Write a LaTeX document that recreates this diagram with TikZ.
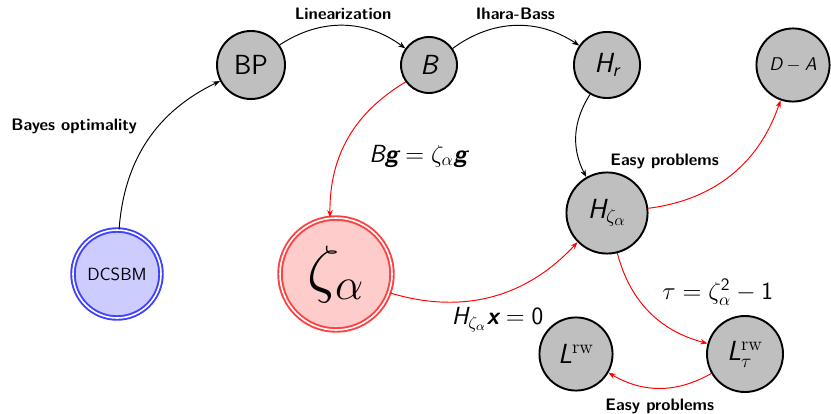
\RequirePackage{fix-cm}
\documentclass[tikz,border=0pt]{standalone}
\usepackage{amsmath}
\usepackage{tikz}
\usetikzlibrary{arrows.meta}
% slanted sans letters and upright sans digits in math
\DeclareSymbolFont{sfletters}{TU}{lmss}{m}{sl}
\SetSymbolFont{sfletters}{bold}{TU}{lmss}{bx}{sl}
\DeclareSymbolFont{sfdigits}{TU}{lmss}{m}{n}
\DeclareMathSymbol{A}{\mathalpha}{sfletters}{`A}
\DeclareMathSymbol{B}{\mathalpha}{sfletters}{`B}
\DeclareMathSymbol{D}{\mathalpha}{sfletters}{`D}
\DeclareMathSymbol{H}{\mathalpha}{sfletters}{`H}
\DeclareMathSymbol{L}{\mathalpha}{sfletters}{`L}
\DeclareMathSymbol{g}{\mathalpha}{sfletters}{`g}
\DeclareMathSymbol{r}{\mathalpha}{sfletters}{`r}
\DeclareMathSymbol{x}{\mathalpha}{sfletters}{`x}
\DeclareMathSymbol{0}{\mathalpha}{sfdigits}{`0}
\DeclareMathSymbol{1}{\mathalpha}{sfdigits}{`1}
\DeclareMathSymbol{2}{\mathalpha}{sfdigits}{`2}

\begin{document}
\begin{tikzpicture}[x=0.625pt, y=-0.625pt, font=\sffamily,
    gnode/.style={circle, draw, very thick, fill=black!25, inner sep=0pt, font=\sffamily\LARGE},
    lbl/.style={text=black, font=\fontsize{10.4}{12}\selectfont\sffamily\bfseries},
    eq/.style={text=black, inner sep=1pt, font=\fontsize{15.5}{18}\selectfont\sffamily},
    arr/.style={-{Stealth[length=4.5pt]}, semithick}]
    \useasboundingbox (0,0) rectangle (831,414);
    % model and spectral parameter
    \node[circle, double, draw=blue!75, fill=blue!20, line width=1.2pt, double distance=1pt,
        minimum size=55pt, font=\fontsize{11}{13}\selectfont\sffamily] (dcsbm) at (117,274) {DCSBM};
    \node[circle, double, draw=red!75, fill=red!20, line width=1.2pt, double distance=1pt,
        minimum size=70pt, font=\fontsize{40}{48}\selectfont] (zeta) at (336,274) {$\zeta_\alpha$};
    % operators
    \node[gnode, minimum size=42.5pt] (bp) at (251,65) {BP};
    \node[gnode, minimum size=35pt] (b) at (429,65) {$B$};
    \node[gnode, minimum size=41.3pt] (hr) at (607,65) {$H_r$};
    \node[gnode, minimum size=45.7pt, font=\fontsize{11.5}{14}\selectfont] (da) at (793,65) {$D-A$};
    \node[gnode, minimum size=50.7pt] (hz) at (607,213) {$H_{\zeta_\alpha}$};
    \node[gnode, minimum size=45.7pt] (lrw) at (576,354) {$L^{\mathrm{rw}}$};
    \node[gnode, minimum size=47.5pt] (ltau) at (745,354) {$L^{\mathrm{rw}}_\tau$};
    % black chain
    \draw[arr] (dcsbm) to[bend left=30] node[pos=0.6, left=10pt, lbl] {Bayes optimality} (bp);
    \draw[arr] (bp) to[bend left=35] node[above, lbl] {Linearization} (b);
    \draw[arr] (b) to[bend left=35] node[above, lbl] {Ihara-Bass} (hr);
    \draw[arr] (hr) to[bend right=30] (hz);
    % red chain
    \draw[arr, red] (b) to[bend right=30] node[right=12pt, yshift=-11pt, eq] {$B\boldsymbol{g} = \zeta_\alpha\boldsymbol{g}$} (zeta);
    \draw[arr, red] (zeta) to[bend right=32] node[pos=0.55, below=7pt, xshift=-2pt, eq] {$H_{\zeta_\alpha}\boldsymbol{x} = 0$} (hz);
    \draw[arr, red] (hz) to[bend right=32] node[above left, xshift=-4pt, lbl] {Easy problems} (da);
    \draw[arr, red] (hz) to[bend right=30] node[right, xshift=7pt, yshift=12pt, eq] {$\tau = \zeta_\alpha^2 - 1$} (ltau);
    \draw[arr, red] (ltau) to[bend left=30] node[below=3pt, lbl] {Easy problems} (lrw);
\end{tikzpicture}
\end{document}
